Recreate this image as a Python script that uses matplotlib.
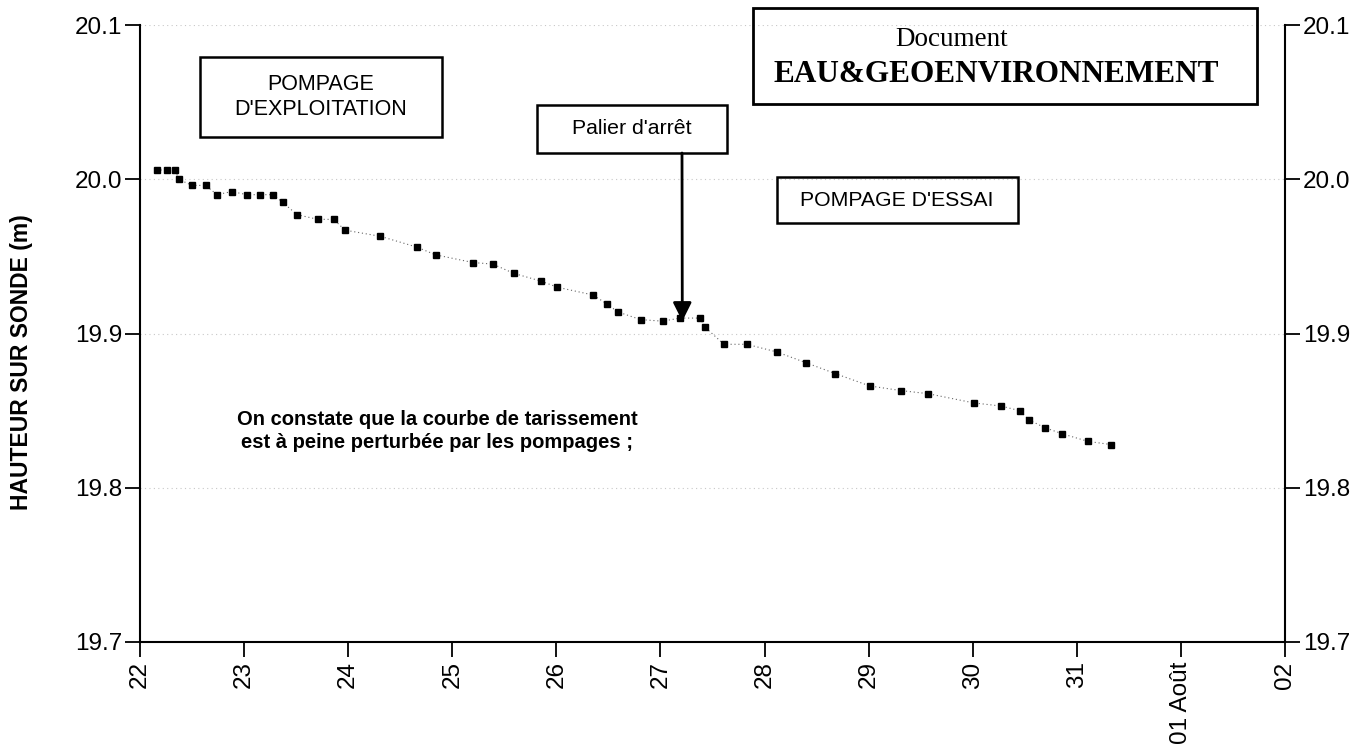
import matplotlib
matplotlib.use('Agg')
import matplotlib.pyplot as plt
from matplotlib.patches import Rectangle

plt.rcParams['font.family'] = ['Liberation Sans', 'DejaVu Sans']

# jour (juillet, 32 = 01 août) et hauteur sur sonde (m)
jours = [22.16, 22.26, 22.34, 22.37, 22.50, 22.63, 22.74, 22.88, 23.03, 23.15,
         23.28, 23.37, 23.51, 23.71, 23.86, 23.97, 24.31, 24.66, 24.84, 25.20,
         25.39, 25.59, 25.85, 26.01, 26.35, 26.49, 26.59, 26.81, 27.02, 27.19,
         27.38, 27.43, 27.61, 27.83, 28.12, 28.40, 28.68, 29.01, 29.31, 29.57,
         30.01, 30.27, 30.45, 30.54, 30.69, 30.86, 31.11, 31.33]
hauteur = [20.006, 20.006, 20.006, 20.000, 19.996, 19.996, 19.990, 19.992, 19.990, 19.990,
           19.990, 19.985, 19.977, 19.974, 19.974, 19.967, 19.963, 19.956, 19.951, 19.946,
           19.945, 19.939, 19.934, 19.930, 19.925, 19.919, 19.914, 19.909, 19.908, 19.910,
           19.910, 19.904, 19.893, 19.893, 19.888, 19.881, 19.874, 19.866, 19.863, 19.861,
           19.855, 19.853, 19.850, 19.844, 19.839, 19.835, 19.830, 19.828]

xticks = list(range(22, 34))
xlabels = ['22', '23', '24', '25', '26', '27', '28', '29', '30', '31', '01 Août', '02']
yticks = [19.7, 19.8, 19.9, 20.0, 20.1]

W, H = 1365, 753


def px(x, y):
    return x / W, 1 - y / H


fig = plt.figure(figsize=(13.65, 7.53), dpi=100)
ax = fig.add_axes([140 / W, 1 - 642 / H, 1145 / W, 617 / H])

ax.plot(jours, hauteur, color='#666666', lw=0.8, linestyle=(0, (1, 2.5)))
ax.plot(jours, hauteur, 's', color='black', markersize=3.8, linestyle='none')

ax.set_xlim(22, 33)
ax.set_ylim(19.7, 20.1)
ax.set_xticks(xticks)
ax.set_xticklabels(xlabels, rotation=90)
ax.set_yticks(yticks)
ax.set_yticklabels(['19.7', '19.8', '19.9', '20.0', '20.1'])
ax.tick_params(axis='y', which='both', left=True, right=True,
               labelleft=True, labelright=True, length=11, width=1.3,
               labelsize=17.5, pad=2)
ax.tick_params(axis='x', length=11, width=1.3, labelsize=17.5, pad=3)

ax.spines['top'].set_visible(False)
for s in ['left', 'right', 'bottom']:
    ax.spines[s].set_linewidth(1.5)

for y in yticks[1:]:
    ax.axhline(y, color='#c8c8c8', lw=0.8, linestyle=(0, (1, 3)), zorder=0)

fig.text(22 / W, 1 - 362 / H, 'HAUTEUR SUR SONDE (m)', rotation=90,
         ha='center', va='center', fontsize=16.5, fontweight='bold')


def box(x0, y0, x1, y1, lw=1.8):
    fig.patches.append(Rectangle(px(x0, y1), (x1 - x0) / W, (y1 - y0) / H,
                                 transform=fig.transFigure, fill=False,
                                 edgecolor='black', lw=lw))


box(200, 57, 442, 137)
fig.text(*px(321, 97), "POMPAGE\nD'EXPLOITATION", ha='center', va='center',
         fontsize=15.5, linespacing=1.2)

box(537, 105, 727, 153)
fig.text(*px(632, 129), "Palier d'arrêt", ha='center', va='center', fontsize=15.3)

box(777, 177, 1018, 223)
fig.text(*px(897, 200), "POMPAGE D'ESSAI", ha='center', va='center', fontsize=15.3)

box(753, 8, 1257, 104, lw=2)
fig.text(*px(952, 40), 'Document', ha='center', va='center', fontsize=19.5,
         family=['Liberation Serif', 'DejaVu Serif'])
fig.text(*px(996, 75), 'EAU&GEOENVIRONNEMENT', ha='center', va='center',
         fontsize=22.5, fontweight='bold', family=['Liberation Serif', 'DejaVu Serif'])

ax.annotate('', xy=(27.21, 19.908), xycoords='data',
            xytext=px(682, 153), textcoords='figure fraction',
            arrowprops=dict(arrowstyle='-|>', color='black', lw=2,
                            mutation_scale=28, shrinkA=0, shrinkB=0))

fig.text(*px(437, 431), 'On constate que la courbe de tarissement\n'
         'est à peine perturbée par les pompages ;', ha='center', va='center',
         fontsize=14.5, fontweight='bold', linespacing=1.25)

fig.savefig('out.png', dpi=100)
